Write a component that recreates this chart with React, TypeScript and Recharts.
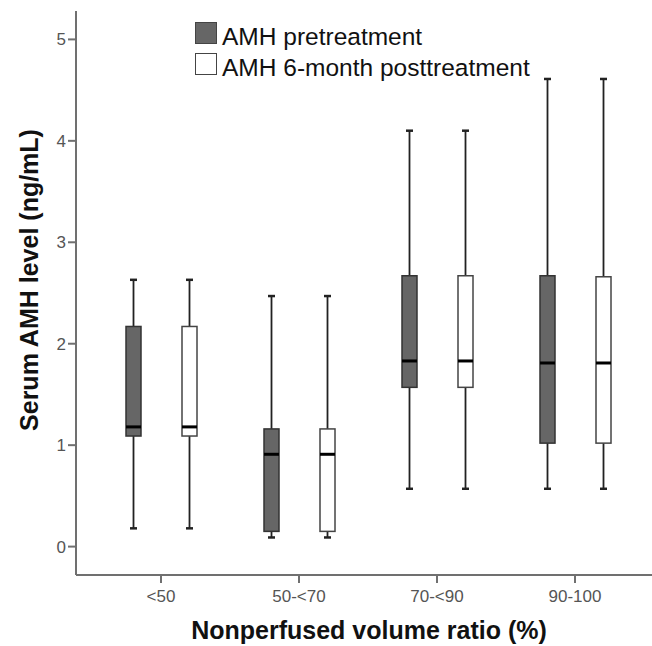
import { ComposedChart, Bar, XAxis, YAxis, Legend } from "recharts";

const categories = ["<50", "50-<70", "70-<90", "90-100"];
const seriesNames = ["AMH pretreatment", "AMH 6-month posttreatment"];

// AMH pretreatment
const preMin = [0.18, 0.09, 0.57, 0.57];
const preQ1 = [1.09, 0.15, 1.57, 1.02];
const preMedian = [1.18, 0.91, 1.83, 1.81];
const preQ3 = [2.17, 1.16, 2.67, 2.67];
const preMax = [2.63, 2.47, 4.1, 4.61];

// AMH 6-month posttreatment
const postMin = [0.18, 0.09, 0.57, 0.57];
const postQ1 = [1.09, 0.15, 1.57, 1.02];
const postMedian = [1.18, 0.91, 1.83, 1.81];
const postQ3 = [2.17, 1.16, 2.67, 2.66];
const postMax = [2.63, 2.47, 4.1, 4.61];

const yTicks = [0, 1, 2, 3, 4, 5];

const data = categories.map((c, i) => ({
  group: c,
  pre: { min: preMin[i], q1: preQ1[i], median: preMedian[i], q3: preQ3[i], max: preMax[i] },
  post: { min: postMin[i], q1: postQ1[i], median: postMedian[i], q3: postQ3[i], max: postMax[i] },
}));

const FONT = "'Liberation Sans', Arial, sans-serif";
const AXIS = "#707070";
const DARK = "#666666";

// draws one box from the bar's whisker range (y = max, y + height = min)
function makeBox(key: "pre" | "post", fill: string, stroke: string) {
  return (props: any) => {
    const { x, y, width, height, payload } = props;
    const s = payload[key];
    const px = (v: number) => y + (height * (s.max - v)) / (s.max - s.min);
    const cx = x + width / 2;
    const q3 = px(s.q3);
    const q1 = px(s.q1);
    const med = px(s.median);
    const top = px(s.max);
    const bot = px(s.min);
    return (
      <g>
        <line x1={cx} x2={cx} y1={top} y2={q3} stroke="#222" strokeWidth={1.8} />
        <line x1={cx} x2={cx} y1={q1} y2={bot} stroke="#222" strokeWidth={1.8} />
        <line x1={cx - 3.5} x2={cx + 3.5} y1={top} y2={top} stroke="#222" strokeWidth={2.5} />
        <line x1={cx - 3.5} x2={cx + 3.5} y1={bot} y2={bot} stroke="#222" strokeWidth={2.5} />
        <rect x={x} y={q3} width={width} height={q1 - q3} fill={fill} stroke={stroke} strokeWidth={1.5} />
        <line x1={x} x2={x + width} y1={med} y2={med} stroke="#000" strokeWidth={3} />
      </g>
    );
  };
}

function LegendBox({ payload }: any) {
  const items = (payload || [])
    .slice()
    .sort((a: any, b: any) => seriesNames.indexOf(a.value) - seriesNames.indexOf(b.value));
  return (
    <div style={{ fontFamily: FONT, fontSize: 24.5, color: "#111" }}>
      {items.map((p: any, i: number) => (
        <div key={i} style={{ position: "relative", height: 31 }}>
          <div
            style={{
              position: "absolute",
              left: 0,
              top: 0,
              width: 20,
              height: 20,
              background: p.color,
              border: "1.5px solid #444",
            }}
          />
          <div style={{ position: "absolute", left: 27, top: 4, lineHeight: "22px", whiteSpace: "nowrap" }}>
            {p.value}
          </div>
        </div>
      ))}
    </div>
  );
}

function YTitle({ viewBox }: any) {
  const cx = viewBox.x + 29;
  const cy = viewBox.y + viewBox.height / 2 - 13;
  return (
    <text
      x={cx}
      y={cy}
      transform={`rotate(-90, ${cx}, ${cy})`}
      textAnchor="middle"
      dominantBaseline="central"
      fontFamily={FONT}
      fontWeight="bold"
      fontSize={25}
      fill="#111"
    >
      Serum AMH level (ng/mL)
    </text>
  );
}

export default function App() {
  return (
    <div
      style={{
        position: "absolute",
        left: 0,
        top: 0,
        width: 652,
        height: 646,
        overflow: "hidden",
        background: "#fff",
      }}
    >
      <ComposedChart
        width={660}
        height={646}
        data={data}
        margin={{ top: 11, right: 4, bottom: 0, left: 0 }}
        barSize={15}
        barGap={41}
      >
        <XAxis
          dataKey="group"
          height={71}
          padding={{ left: 16, right: 12 }}
          stroke={AXIS}
          axisLine={{ stroke: AXIS, strokeWidth: 2 }}
          tickLine={{ stroke: AXIS, strokeWidth: 2 }}
          tickSize={8}
          tickMargin={7}
          tick={{ fill: "#555", fontSize: 17, fontFamily: FONT }}
          label={{
            value: "Nonperfused volume ratio (%)",
            position: "insideBottom",
            offset: 7,
            dx: 3,
            style: { fontFamily: FONT, fontWeight: "bold", fontSize: 25, fill: "#111" },
          }}
        />
        <XAxis
          xAxisId="top"
          dataKey="group"
          orientation="top"
          height={0}
          tick={false}
          tickLine={false}
          axisLine={{ stroke: AXIS, strokeWidth: 2 }}
        />
        <YAxis
          width={76}
          domain={[-0.28, 5.28]}
          ticks={yTicks}
          allowDataOverflow
          axisLine={{ stroke: AXIS, strokeWidth: 2 }}
          tickLine={{ stroke: AXIS, strokeWidth: 2 }}
          tickSize={8}
          tickMargin={2}
          tick={{ fill: "#555", fontSize: 17, fontFamily: FONT }}
          label={<YTitle />}
        />
        <Legend
          layout="vertical"
          align="center"
          verticalAlign="middle"
          itemSorter={null as any}
          wrapperStyle={{ left: 195, top: 22, width: 360, height: 70 }}
          content={<LegendBox />}
        />
        <Bar
          name={seriesNames[0]}
          dataKey={(d: any) => [d.pre.min, d.pre.max]}
          fill={DARK}
          shape={makeBox("pre", DARK, "#333")}
          isAnimationActive={false}
        />
        <Bar
          name={seriesNames[1]}
          dataKey={(d: any) => [d.post.min, d.post.max]}
          fill="#ffffff"
          shape={makeBox("post", "#ffffff", "#444")}
          isAnimationActive={false}
        />
      </ComposedChart>
    </div>
  );
}
